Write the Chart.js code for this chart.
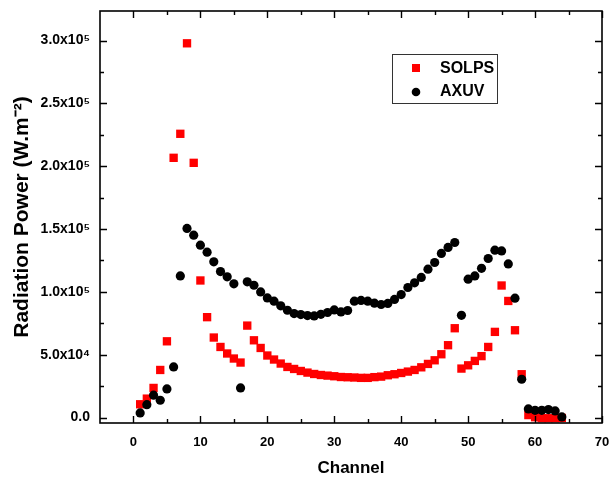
<!DOCTYPE html>
<html>
<head>
<meta charset="utf-8">
<script src="https://cdn.jsdelivr.net/npm/chart.js@4"></script>
<style>
html,body{margin:0;padding:0;background:#fff;}
#wrap{width:616px;height:489px;}
</style>
</head>
<body>
<div id="wrap"><canvas id="c" width="616" height="489"></canvas></div>
<script>
const channels = [1,2,3,4,5,6,7,8,9,10,11,12,13,14,15,16,17,18,19,20,21,22,23,24,25,26,27,28,29,30,31,32,33,34,35,36,37,38,39,40,41,42,43,44,45,46,47,48,49,50,51,52,53,54,55,56,57,58,59,60,61,62,63,64];
const solps = [10600,15100,23600,37900,60700,206700,225800,297800,202700,109100,
  79900,63700,56200,51000,47000,43800,73200,61500,55400,49400,
  46200,43000,40300,38700,37100,35800,34700,33900,33400,32900,
  32300,32100,31900,31600,31600,32200,32600,33700,34500,35500,
  36600,37900,40000,42700,45600,50400,57600,71100,39000,41600,
  45100,48900,56200,68200,105100,92800,69500,34500,2000,300,
  -500,-500,-500,-300];
const axuv = [3700,10300,17800,13800,22800,40300,112700,150500,145100,137200,
  131600,123900,116200,112000,106400,23600,108000,105300,100000,95200,
  92600,88900,85400,82800,82000,81200,80900,82200,83600,85700,
  84100,85200,92600,93200,92600,91000,90000,90800,94000,97900,
  103500,107200,111500,118100,123400,130600,135400,139300,81400,110100,
  112700,118800,126600,133200,132600,122300,95000,30500,6900,5800,
  5800,6400,5300,500];
const xTicks = [0,10,20,30,40,50,60,70];
const yTicks = [0,50000,100000,150000,200000,250000,300000];
const yTickLabels = ['0.0','5.0x10\u2074','1.0x10\u2075','1.5x10\u2075','2.0x10\u2075','2.5x10\u2075','3.0x10\u2075'];
const seriesNames = ['SOLPS','AXUV'];

const FONT = "'Liberation Sans', Arial, sans-serif";

const framePlugin = {
  id: 'frame',
  afterDraw(chart) {
    const ctx = chart.ctx, a = chart.chartArea;
    const xs = chart.scales.x, ys = chart.scales.y;
    ctx.save();
    ctx.strokeStyle = '#000';
    ctx.lineWidth = 1.6;
    ctx.strokeRect(a.left, a.top, a.right - a.left, a.bottom - a.top);
    ctx.lineWidth = 1.4;
    ctx.beginPath();
    for (let v = 0; v <= 70; v += 5) {
      const px = Math.round(xs.getPixelForValue(v)) + 0.5;
      const len = v % 10 === 0 ? 7 : 4;
      ctx.moveTo(px, a.bottom); ctx.lineTo(px, a.bottom - len);
      ctx.moveTo(px, a.top); ctx.lineTo(px, a.top + len);
    }
    for (let v = 0; v <= 300000; v += 25000) {
      const py = Math.round(ys.getPixelForValue(v)) + 0.5;
      const len = v % 50000 === 0 ? 7 : 4;
      ctx.moveTo(a.left, py); ctx.lineTo(a.left + len, py);
      ctx.moveTo(a.right, py); ctx.lineTo(a.right - len, py);
    }
    ctx.stroke();
    // legend
    const lx = 392, ly = 54, lw = 105, lh = 49;
    ctx.lineWidth = 1;
    ctx.strokeStyle = '#333';
    ctx.strokeRect(lx + 0.5, ly + 0.5, lw, lh);
    const ds = chart.data.datasets;
    ctx.font = "bold 16px " + FONT;
    ctx.textBaseline = 'middle';
    ctx.textAlign = 'left';
    ctx.fillStyle = ds[0].backgroundColor;
    ctx.fillRect(lx + 20, ly + 10, 8, 8);
    ctx.fillStyle = '#000';
    ctx.fillText(ds[0].label, lx + 48, ly + 15);
    ctx.fillStyle = ds[1].backgroundColor;
    ctx.beginPath();
    ctx.arc(lx + 24, ly + 38, 4.3, 0, Math.PI * 2);
    ctx.fill();
    ctx.fillStyle = '#000';
    ctx.fillText(ds[1].label, lx + 48, ly + 38);
    ctx.restore();
  }
};

new Chart(document.getElementById('c'), {
  type: 'scatter',
  data: {
    datasets: [
      {
        label: seriesNames[0],
        data: channels.map((c, i) => ({x: c, y: solps[i]})),
        pointStyle: 'rect',
        pointRadius: 5.9,
        backgroundColor: '#ff0000',
        borderColor: '#ff0000',
        borderWidth: 0,
        order: 1
      },
      {
        label: seriesNames[1],
        data: channels.map((c, i) => ({x: c, y: axuv[i]})),
        pointStyle: 'circle',
        pointRadius: 4.6,
        backgroundColor: '#000000',
        borderColor: '#000000',
        borderWidth: 0,
        order: 0
      }
    ]
  },
  options: {
    responsive: false,
    animation: false,
    devicePixelRatio: 1,
    layout: {padding: {left: 0, right: 14, top: 11, bottom: 0}},
    plugins: {legend: {display: false}, tooltip: {enabled: false}},
    elements: {point: {hoverRadius: 5}},
    scales: {
      x: {
        type: 'linear',
        min: -5, max: 70,
        afterBuildTicks(s) { s.ticks = xTicks.map(v => ({value: v})); },
        afterFit(s) { s.height = 66; s.paddingLeft = 0; s.paddingRight = 0; },
        grid: {display: false, drawTicks: false},
        border: {display: false},
        ticks: {
          color: '#000',
          padding: 12,
          maxRotation: 0,
          autoSkip: false,
          font: {family: FONT, size: 13, weight: 'bold'},
          callback: v => String(v)
        },
        title: {
          display: true,
          text: 'Channel',
          color: '#000',
          font: {family: FONT, size: 17, weight: 'bold'},
          padding: {top: 0, bottom: 10}
        }
      },
      y: {
        type: 'linear',
        min: -4300, max: 323500,
        afterBuildTicks(s) { s.ticks = yTicks.map(v => ({value: v})); },
        afterFit(s) { s.width = 100; s.paddingTop = 0; s.paddingBottom = 0; },
        grid: {display: false, drawTicks: false},
        border: {display: false},
        ticks: {
          color: '#000',
          padding: 10,
          autoSkip: false,
          font: {family: FONT, size: 14, weight: 'bold'},
          callback: (v) => { const i = yTicks.indexOf(v); return i >= 0 ? yTickLabels[i] : ''; }
        },
        title: {
          display: true,
          text: 'Radiation Power (W.m\u207B\u00B2)',
          color: '#000',
          font: {family: FONT, size: 21, weight: 'bold'},
          padding: {top: 10, bottom: 0}
        }
      }
    }
  },
  plugins: [framePlugin]
});
</script>
</body>
</html>
